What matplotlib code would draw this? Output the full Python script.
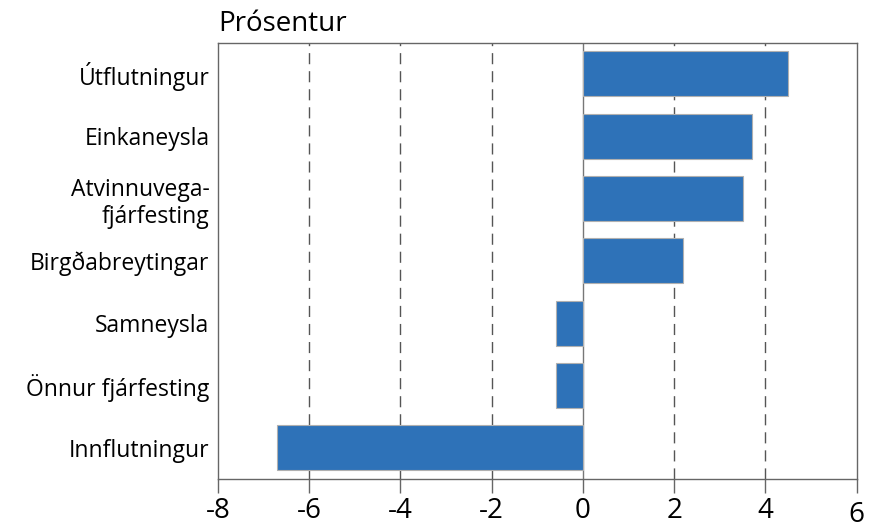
import matplotlib.pyplot as plt
import matplotlib.transforms as mtransforms

# Framlag til hagvaxtar, prósentur
categories = ['Útflutningur', 'Einkaneysla', 'Atvinnuvega-\nfjárfesting',
              'Birgðabreytingar', 'Samneysla', 'Önnur fjárfesting', 'Innflutningur']
values = [4.5, 3.7, 3.5, 2.2, -0.6, -0.6, -6.7]
xticks = [-8, -6, -4, -2, 0, 2, 4, 6]

plt.rcParams['font.family'] = ['Open Sans', 'DejaVu Sans']

fig = plt.figure(figsize=(8.75, 5.28), dpi=100)
ax = fig.add_axes([0.249, 0.093, 0.730, 0.826])

ypos = list(range(len(categories)))
ax.barh(ypos, values, height=0.72, color='#2e72b8', edgecolor='#b0b0b0',
        linewidth=0.8, zorder=3)

ax.set_xlim(-8, 6)
ax.set_ylim(len(categories) - 0.5, -0.5)
ax.set_yticks(ypos)
ax.set_yticklabels(categories, fontsize=16.5, ha='right', multialignment='right',
                   linespacing=1.2)
ax.tick_params(axis='y', length=0, pad=6)

ax.set_xticks(xticks)
ax.set_xticklabels([str(t) for t in xticks], fontsize=20)
ax.tick_params(axis='x', direction='out', length=10, width=1, color='#666666', pad=3)

for t in xticks[1:-1]:
    if t == 0:
        ax.axvline(t, color='#777777', linewidth=1, zorder=1)
    else:
        ax.axvline(t, color='#555555', linewidth=1, linestyle=(0, (8, 5)), zorder=1)

for spine in ax.spines.values():
    spine.set_color('#666666')
    spine.set_linewidth(1)

# síðasti merkimiðinn situr aðeins neðar
last = ax.get_xticklabels()[-1]
last.set_transform(last.get_transform() +
                   mtransforms.ScaledTranslation(0, -3 / 72, fig.dpi_scale_trans))

fig.text(0.249, 0.928, 'Prósentur', fontsize=20, ha='left', va='bottom')

fig.savefig('out.png', dpi=100)
